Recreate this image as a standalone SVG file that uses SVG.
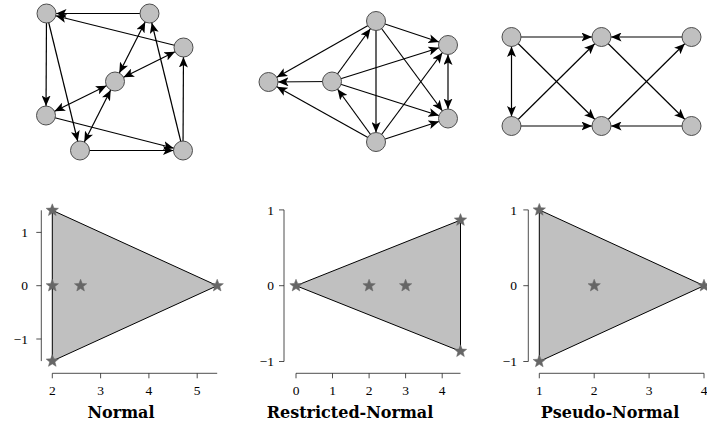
<svg xmlns="http://www.w3.org/2000/svg" xmlns:xlink="http://www.w3.org/1999/xlink" width="707" height="432" viewBox="0 0 707 432">
<style>
.edge{stroke:#000;stroke-width:1.2;fill:none}
.one{marker-end:url(#ah)}
.two{marker-end:url(#ah);marker-start:url(#ah)}
.node circle{fill:#c0c0c0;stroke:#4d4d4d;stroke-width:1}
.axis{stroke:#222;stroke-width:0.8;fill:none}
.tri{fill:#c0c0c0;stroke:#000;stroke-width:1}
.tick{font-family:"Liberation Serif","DejaVu Serif",serif;font-size:13.5px;fill:#000}
.ylab{text-anchor:end}
.xlab{text-anchor:middle}
.title{font-family:"DejaVu Serif","Liberation Serif",serif;font-size:16px;font-weight:bold;text-anchor:middle;fill:#000}
</style>
<defs>
<marker id="ah" viewBox="0 0 20 9" refX="20" refY="4.5" markerWidth="20" markerHeight="9" orient="auto-start-reverse" markerUnits="userSpaceOnUse">
<path d="M0,0 L10.5,4.5 L0,9 L2.5,4.5 z" fill="#000"/>
</marker>
<path id="star" d="M0,-6.5 L1.646,-2.265 L6.182,-2.009 L2.663,0.865 L3.821,5.259 L0,2.8 L-3.821,5.259 L-2.663,0.865 L-6.182,-2.009 L-1.646,-2.265 Z" fill="#666" stroke="#666" stroke-width="0.5"/>
</defs>

<g id="connectors">
<g id="g1-edges">
<line class="edge one" x1="149.5" y1="13.5" x2="46.5" y2="13.5"/>
<line class="edge one" x1="183.5" y1="47.5" x2="46.5" y2="13.5"/>
<line class="edge one" x1="46.5" y1="13.5" x2="46" y2="115.5"/>
<line class="edge one" x1="46.5" y1="13.5" x2="80" y2="150.5"/>
<line class="edge two" x1="149.5" y1="13.5" x2="115" y2="81.5"/>
<line class="edge two" x1="183.5" y1="47.5" x2="115" y2="81.5"/>
<line class="edge two" x1="115" y1="81.5" x2="46" y2="115.5"/>
<line class="edge two" x1="115" y1="81.5" x2="80" y2="150.5"/>
<line class="edge one" x1="46" y1="115.5" x2="183" y2="150.5"/>
<line class="edge one" x1="80" y1="150.5" x2="183" y2="150.5"/>
<line class="edge one" x1="183" y1="150.5" x2="149.5" y2="13.5"/>
<line class="edge one" x1="183" y1="150.5" x2="183.5" y2="47.5"/>
</g>
<g id="g2-edges">
<line class="edge one" x1="376" y1="21" x2="268.5" y2="82"/>
<line class="edge one" x1="332" y1="81.5" x2="268.5" y2="82"/>
<line class="edge one" x1="376" y1="142" x2="268.5" y2="82"/>
<line class="edge one" x1="332" y1="81.5" x2="376" y2="21"/>
<line class="edge one" x1="376" y1="21" x2="448" y2="45"/>
<line class="edge one" x1="376" y1="21" x2="376" y2="142"/>
<line class="edge one" x1="376" y1="21" x2="448" y2="118.5"/>
<line class="edge one" x1="332" y1="81.5" x2="448" y2="45"/>
<line class="edge one" x1="332" y1="81.5" x2="448" y2="118.5"/>
<line class="edge one" x1="376" y1="142" x2="332" y2="81.5"/>
<line class="edge one" x1="376" y1="142" x2="448" y2="45"/>
<line class="edge one" x1="376" y1="142" x2="448" y2="118.5"/>
<line class="edge two" x1="448" y1="45" x2="448" y2="118.5"/>
</g>
<g id="g3-edges">
<line class="edge one" x1="511.5" y1="37" x2="601.5" y2="37"/>
<line class="edge one" x1="511.5" y1="37" x2="601.5" y2="126"/>
<line class="edge two" x1="511.5" y1="37" x2="511.5" y2="126"/>
<line class="edge one" x1="511.5" y1="126" x2="601.5" y2="126"/>
<line class="edge one" x1="511.5" y1="126" x2="601.5" y2="37"/>
<line class="edge one" x1="691.5" y1="37" x2="601.5" y2="37"/>
<line class="edge one" x1="601.5" y1="37" x2="691.5" y2="126"/>
<line class="edge one" x1="601.5" y1="126" x2="691.5" y2="37"/>
<line class="edge one" x1="691.5" y1="126" x2="601.5" y2="126"/>
</g>
</g>

<g id="g1-A" class="node"><circle cx="46.5" cy="13.5" r="9.5"/></g>
<g id="g1-B" class="node"><circle cx="149.5" cy="13.5" r="9.5"/></g>
<g id="g1-C" class="node"><circle cx="183.5" cy="47.5" r="9.5"/></g>
<g id="g1-D" class="node"><circle cx="115" cy="81.5" r="9.5"/></g>
<g id="g1-E" class="node"><circle cx="46" cy="115.5" r="9.5"/></g>
<g id="g1-F" class="node"><circle cx="80" cy="150.5" r="9.5"/></g>
<g id="g1-G" class="node"><circle cx="183" cy="150.5" r="9.5"/></g>

<g id="g2-P" class="node"><circle cx="268.5" cy="82" r="9.5"/></g>
<g id="g2-Q" class="node"><circle cx="332" cy="81.5" r="9.5"/></g>
<g id="g2-R" class="node"><circle cx="376" cy="21" r="9.5"/></g>
<g id="g2-S" class="node"><circle cx="448" cy="45" r="9.5"/></g>
<g id="g2-T" class="node"><circle cx="448" cy="118.5" r="9.5"/></g>
<g id="g2-U" class="node"><circle cx="376" cy="142" r="9.5"/></g>

<g id="g3-1" class="node"><circle cx="511.5" cy="37" r="9.5"/></g>
<g id="g3-2" class="node"><circle cx="601.5" cy="37" r="9.5"/></g>
<g id="g3-3" class="node"><circle cx="691.5" cy="37" r="9.5"/></g>
<g id="g3-4" class="node"><circle cx="511.5" cy="126" r="9.5"/></g>
<g id="g3-5" class="node"><circle cx="601.5" cy="126" r="9.5"/></g>
<g id="g3-6" class="node"><circle cx="691.5" cy="126" r="9.5"/></g>

<g id="plot-normal">
<polygon class="tri" points="52.3,210.3 52.3,361.1 217.2,285.7"/>
<path class="axis" d="M41.3,210.3 V361.1 M41.3,232.4 h-5 M41.3,285.7 h-5 M41.3,339 h-5"/>
<path class="axis" d="M52.3,373.3 H217.2 M52.3,373.3 v5 M100.6,373.3 v5 M148.9,373.3 v5 M197.2,373.3 v5"/>
<use xlink:href="#star" x="52.3" y="210.3"/>
<use xlink:href="#star" x="52.3" y="285.7"/>
<use xlink:href="#star" x="80.6" y="285.7"/>
<use xlink:href="#star" x="52.3" y="361.1"/>
<use xlink:href="#star" x="217.2" y="285.7"/>
<text class="tick ylab" x="28" y="237">1</text>
<text class="tick ylab" x="28" y="290.3">0</text>
<text class="tick ylab" x="28" y="343.6">−1</text>
<text class="tick xlab" x="52.3" y="395">2</text>
<text class="tick xlab" x="100.6" y="395">3</text>
<text class="tick xlab" x="148.9" y="395">4</text>
<text class="tick xlab" x="197.2" y="395">5</text>
<text class="title" x="121" y="418">Normal</text>
</g>

<g id="plot-restricted">
<polygon class="tri" points="296,285.7 460.5,220.1 460.5,351.3"/>
<path class="axis" d="M284,209.9 V361.5 M284,209.9 h-5 M284,285.7 h-5 M284,361.5 h-5"/>
<path class="axis" d="M296,373.3 H460.5 M296,373.3 v5 M332.5,373.3 v5 M369.1,373.3 v5 M405.6,373.3 v5 M442.2,373.3 v5"/>
<use xlink:href="#star" x="296" y="285.7"/>
<use xlink:href="#star" x="369.1" y="285.7"/>
<use xlink:href="#star" x="405.6" y="285.7"/>
<use xlink:href="#star" x="460.5" y="220.1"/>
<use xlink:href="#star" x="460.5" y="351.3"/>
<text class="tick ylab" x="274" y="214.5">1</text>
<text class="tick ylab" x="274" y="290.3">0</text>
<text class="tick ylab" x="274" y="366.1">−1</text>
<text class="tick xlab" x="296" y="395">0</text>
<text class="tick xlab" x="332.5" y="395">1</text>
<text class="tick xlab" x="369.1" y="395">2</text>
<text class="tick xlab" x="405.6" y="395">3</text>
<text class="tick xlab" x="442.2" y="395">4</text>
<text class="title" x="350" y="418">Restricted-Normal</text>
</g>

<g id="plot-pseudo">
<polygon class="tri" points="539.3,209.9 539.3,361.5 704,285.7"/>
<path class="axis" d="M528.3,209.9 V361.5 M528.3,209.9 h-5 M528.3,285.7 h-5 M528.3,361.5 h-5"/>
<path class="axis" d="M539.3,373.3 H704 M539.3,373.3 v5 M594.2,373.3 v5 M649.1,373.3 v5 M704,373.3 v5"/>
<use xlink:href="#star" x="539.3" y="209.9"/>
<use xlink:href="#star" x="539.3" y="361.5"/>
<use xlink:href="#star" x="704" y="285.7"/>
<use xlink:href="#star" x="594.2" y="285.7"/>
<text class="tick ylab" x="517" y="214.5">1</text>
<text class="tick ylab" x="517" y="290.3">0</text>
<text class="tick ylab" x="517" y="366.1">−1</text>
<text class="tick xlab" x="539.3" y="395">1</text>
<text class="tick xlab" x="594.2" y="395">2</text>
<text class="tick xlab" x="649.1" y="395">3</text>
<text class="tick xlab" x="704" y="395">4</text>
<text class="title" x="610" y="418">Pseudo-Normal</text>
</g>
</svg>
